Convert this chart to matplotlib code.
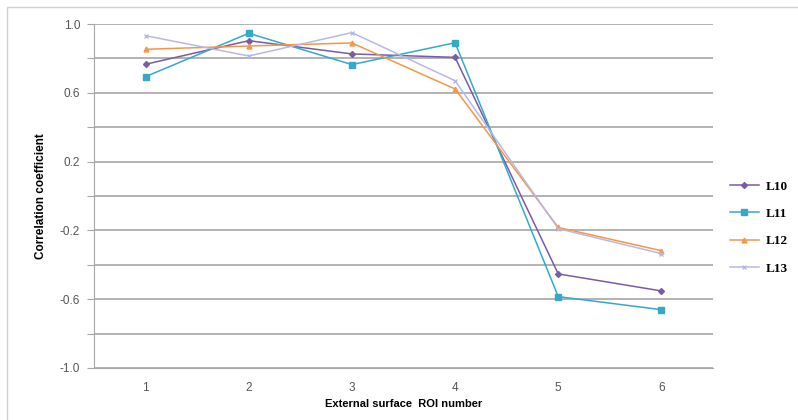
import matplotlib.pyplot as plt
import matplotlib.patches as patches
import numpy as np

roi = [1, 2, 3, 4, 5, 6]
l10 = [0.766, 0.903, 0.826, 0.806, -0.453, -0.552]
l11 = [0.694, 0.946, 0.764, 0.891, -0.585, -0.661]
l12 = [0.853, 0.872, 0.890, 0.622, -0.183, -0.318]
l13 = [0.932, 0.814, 0.950, 0.670, -0.190, -0.335]
names = ['L10', 'L11', 'L12', 'L13']

fig = plt.figure(figsize=(7.98, 4.2), dpi=100)
ax = fig.add_axes([94/798, 52/420, 619/798, 344/420])

# outer chart border
fig.patches.append(patches.Rectangle((7/798, -0.01), 0.995, 0.993, transform=fig.transFigure,
                                     fill=False, edgecolor='#d0d0d0', lw=1.0))

ax.plot(roi, l10, color='#7b5aa6', marker='D', ms=3, lw=1.1, label=names[0])
ax.plot(roi, l11, color='#35a9c9', marker='s', ms=4.5, lw=1.1, label=names[1])
ax.plot(roi, l12, color='#f79646', marker='^', ms=3.5, lw=1.1, label=names[2])
ax.plot(roi, l13, color='#b8b8e4', marker='x', ms=3, lw=1.1, label=names[3])

ax.set_xlim(0.5, 6.5)
ax.set_ylim(-1.0, 1.0)
ax.set_yticks(np.arange(-1.0, 1.01, 0.2))
ax.set_yticklabels(['-1.0', '', '-0.6', '', '-0.2', '', '0.2', '', '0.6', '', '1.0'])
ax.set_xticks(roi)
ax.grid(axis='y', color='#a6a6a6', lw=1.2)
ax.set_axisbelow(True)
for s in ['top', 'right']:
    ax.spines[s].set_visible(False)
ax.spines['left'].set_color('#a6a6a6')
ax.spines['bottom'].set_color('#a6a6a6')
ax.tick_params(axis='y', length=5, color='#a6a6a6', labelsize=8.5, labelcolor='#555555', pad=5)
ax.tick_params(axis='x', length=0, labelsize=8.5, labelcolor='#555555', pad=10)
for t in ax.get_xticklabels() + ax.get_yticklabels():
    t.set_family('Liberation Sans')

ax.set_xlabel('External surface  ROI number', fontsize=8, fontweight='bold',
              family='Liberation Sans', labelpad=4)
ax.set_ylabel('Correlation coefficient', fontsize=8.5, fontweight='bold',
              family='Liberation Sans', labelpad=9)

leg = fig.legend(loc='center left', bbox_to_anchor=(718/798, 0.458), frameon=False,
                 prop={'family': 'Liberation Serif', 'weight': 'bold', 'size': 9.5},
                 handlelength=2.2, labelspacing=1.15, handletextpad=0.5)

fig.savefig('out.png', dpi=100)
